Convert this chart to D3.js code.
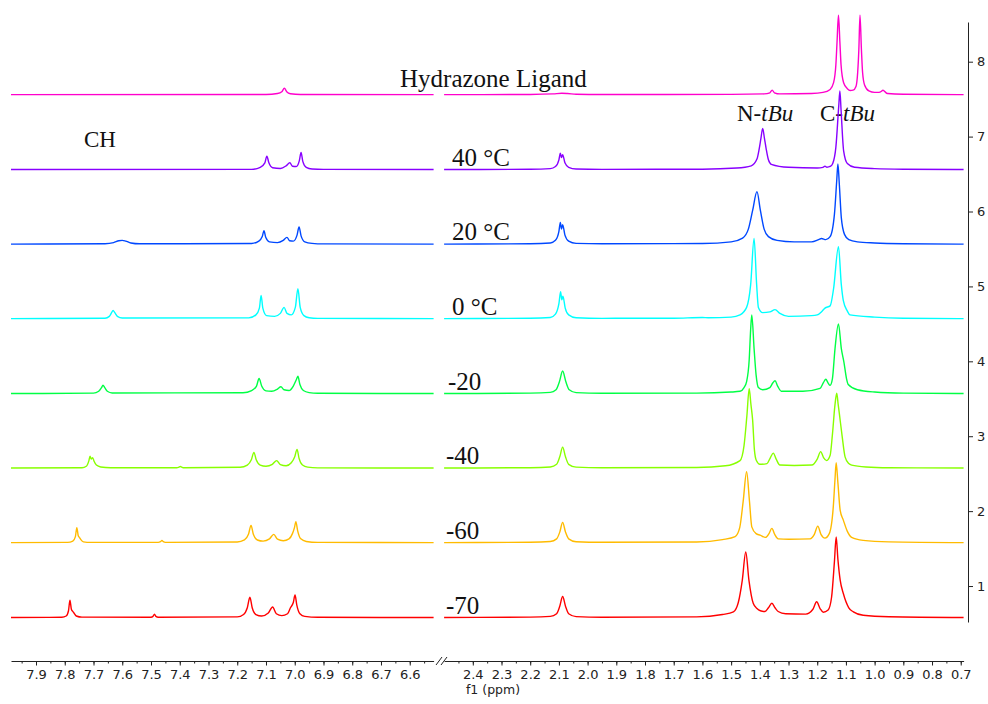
<!DOCTYPE html>
<html>
<head>
<meta charset="utf-8">
<script src="https://cdn.jsdelivr.net/npm/d3@7"></script>
<style>
  body { margin: 0; background: #fff; }
  svg { display: block; }
  .lbl { font-family: "Liberation Serif", "Times New Roman", serif; font-size: 25px; fill: #111; }
  .lbl.small { font-size: 23px; }
  .axis text { font-family: "DejaVu Sans", Verdana, sans-serif; font-size: 13px; fill: #222; }
  .axis path, .axis line { stroke: #222; }
</style>
</head>
<body>
<svg id="chart"></svg>
<script>
// spectra, bottom to top. points are [ppm, intensity]
const labels = ['-70', '-60', '-40', '-20', '0 °C', '20 °C', '40 °C', 'Hydrazone Ligand']
const colors = ['#ff0000', '#ffbb00', '#88ff00', '#00ff44', '#00ffff', '#0048ff', '#8800ff', '#ff00cc']
const offsets = [0.58, 1.58, 2.575, 3.57, 4.57, 5.565, 6.56, 7.56]

const minus70L = [
  [7.987,0],[7.81,0.003],[7.795,0.02],[7.787,0.09],[7.782,0.23],[7.777,0.11],[7.773,0.085],[7.768,0.06],[7.76,0.02],[7.74,0.005],
  [7.5,0.004],[7.493,0.015],[7.488,0.045],[7.483,0.015],[7.475,0.004],
  [7.2,0.008],[7.178,0.04],[7.165,0.13],[7.156,0.27],[7.148,0.13],[7.135,0.04],[7.115,0.02],
  [7.092,0.06],[7.077,0.14],[7.064,0.05],[7.045,0.025],[7.025,0.05],[7.015,0.13],[7.005,0.2],[6.999,0.3],[6.993,0.17],[6.982,0.05],[6.965,0.015],[6.92,0.003],[6.517,0]
]
const minus70R = [
  [2.5,0],[2.2,0.005],[2.13,0.015],[2.108,0.05],[2.097,0.15],[2.087,0.28],[2.077,0.15],[2.066,0.05],[2.04,0.012],[1.95,0.004],
  [1.62,0.008],[1.53,0.04],[1.492,0.075],[1.475,0.2],[1.461,0.5],[1.449,0.875],[1.438,0.5],[1.423,0.19],[1.41,0.12],[1.398,0.09],[1.382,0.08],[1.37,0.13],[1.358,0.19],[1.347,0.13],[1.336,0.08],[1.31,0.05],
  [1.24,0.045],[1.215,0.11],[1.202,0.21],[1.19,0.12],[1.179,0.07],[1.162,0.1],[1.15,0.27],[1.14,0.75],[1.134,1.076],[1.128,0.78],[1.12,0.5],[1.109,0.32],[1.09,0.13],[1.074,0.075],[1.04,0.03],[0.95,0.01],[0.69,0]
]
const minus60L = [
  [7.987,0],[7.79,0.003],[7.772,0.02],[7.763,0.08],[7.758,0.2],[7.753,0.09],[7.749,0.07],[7.744,0.04],[7.735,0.01],[7.71,0.003],
  [7.475,0.003],[7.467,0.012],[7.462,0.03],[7.457,0.012],[7.45,0.003],
  [7.2,0.008],[7.175,0.035],[7.161,0.11],[7.152,0.23],[7.144,0.11],[7.13,0.035],[7.11,0.02],
  [7.088,0.05],[7.073,0.11],[7.06,0.045],[7.04,0.025],[7.02,0.05],[7.008,0.12],[7.001,0.2],[6.996,0.28],[6.99,0.16],[6.979,0.05],[6.96,0.015],[6.92,0.003],[6.517,0]
]
const minus60R = [
  [2.5,0],[2.2,0.005],[2.13,0.015],[2.108,0.05],[2.097,0.14],[2.087,0.27],[2.077,0.14],[2.066,0.05],[2.04,0.012],[1.95,0.004],
  [1.62,0.008],[1.53,0.04],[1.486,0.08],[1.47,0.2],[1.458,0.55],[1.446,0.945],[1.436,0.55],[1.428,0.21],[1.413,0.12],[1.399,0.1],[1.38,0.07],[1.368,0.12],[1.358,0.19],[1.348,0.11],[1.336,0.05],[1.3,0.045],
  [1.225,0.05],[1.21,0.11],[1.198,0.22],[1.187,0.11],[1.173,0.06],[1.158,0.12],[1.144,0.48],[1.138,0.85],[1.134,1.065],[1.128,0.8],[1.12,0.43],[1.109,0.3],[1.095,0.15],[1.08,0.07],[1.04,0.03],[0.95,0.01],[0.69,0]
]
const minus40L = [
  [7.987,0],[7.74,0.004],[7.725,0.025],[7.716,0.1],[7.712,0.16],[7.708,0.12],[7.703,0.14],[7.698,0.09],[7.69,0.04],[7.675,0.015],[7.64,0.005],
  [7.41,0.004],[7.403,0.012],[7.398,0.02],[7.393,0.012],[7.385,0.004],
  [7.19,0.01],[7.165,0.04],[7.151,0.11],[7.142,0.21],[7.134,0.11],[7.12,0.04],[7.1,0.025],
  [7.078,0.05],[7.063,0.1],[7.05,0.045],[7.03,0.03],[7.012,0.07],[7.0,0.15],[6.992,0.25],[6.985,0.13],[6.973,0.04],[6.955,0.012],[6.92,0.003],[6.517,0]
]
const minus40R = [
  [2.5,0],[2.2,0.005],[2.13,0.015],[2.108,0.05],[2.097,0.15],[2.087,0.28],[2.077,0.15],[2.066,0.05],[2.04,0.012],[1.95,0.004],
  [1.62,0.008],[1.52,0.03],[1.469,0.1],[1.455,0.3],[1.445,0.7],[1.437,1.06],[1.431,0.85],[1.425,0.64],[1.419,0.25],[1.412,0.1],[1.4,0.05],[1.375,0.06],[1.363,0.14],[1.353,0.2],[1.343,0.12],[1.33,0.04],[1.28,0.035],
  [1.219,0.04],[1.2,0.12],[1.188,0.22],[1.178,0.14],[1.167,0.1],[1.155,0.17],[1.147,0.45],[1.138,0.85],[1.132,1.0],[1.127,0.85],[1.123,0.73],[1.113,0.42],[1.103,0.15],[1.09,0.06],[1.08,0.04],[1.03,0.015],[0.95,0.005],[0.69,0]
]
const minus20L = [
  [7.987,0],[7.7,0.005],[7.682,0.03],[7.672,0.08],[7.667,0.11],[7.661,0.08],[7.652,0.03],[7.635,0.008],
  [7.18,0.01],[7.15,0.04],[7.133,0.1],[7.124,0.2],[7.115,0.1],[7.1,0.035],[7.08,0.03],
  [7.06,0.06],[7.048,0.09],[7.037,0.05],[7.02,0.04],[7.005,0.1],[6.995,0.18],[6.989,0.23],[6.982,0.12],[6.97,0.04],[6.95,0.012],[6.92,0.003],[6.517,0]
]
const minus20R = [
  [2.5,0],[2.2,0.005],[2.13,0.015],[2.11,0.05],[2.098,0.16],[2.087,0.3],[2.076,0.16],[2.064,0.05],[2.04,0.012],[1.95,0.004],
  [1.62,0.006],[1.5,0.02],[1.469,0.03],[1.455,0.08],[1.446,0.16],[1.437,0.45],[1.432,0.85],[1.428,1.05],[1.42,0.6],[1.413,0.25],[1.405,0.08],[1.39,0.05],[1.365,0.08],[1.355,0.14],[1.347,0.17],[1.338,0.1],[1.325,0.03],[1.25,0.03],
  [1.19,0.07],[1.178,0.15],[1.17,0.19],[1.162,0.14],[1.155,0.11],[1.147,0.2],[1.138,0.6],[1.126,0.93],[1.116,0.6],[1.107,0.42],[1.098,0.2],[1.092,0.12],[1.06,0.05],[1.0,0.02],[0.9,0.005],[0.69,0]
]
const zeroL = [
  [7.987,0],[7.66,0.005],[7.645,0.03],[7.637,0.08],[7.632,0.11],[7.626,0.08],[7.617,0.03],[7.6,0.008],
  [7.16,0.01],[7.135,0.05],[7.123,0.14],[7.117,0.31],[7.111,0.14],[7.098,0.04],[7.07,0.03],
  [7.05,0.07],[7.037,0.15],[7.027,0.07],[7.012,0.05],[6.998,0.15],[6.989,0.4],[6.981,0.15],[6.968,0.04],[6.95,0.012],[6.92,0.003],[6.517,0]
]
const zeroR = [
  [2.5,0],[2.2,0.005],[2.13,0.015],[2.112,0.06],[2.1,0.2],[2.094,0.36],[2.09,0.25],[2.086,0.3],[2.078,0.14],[2.066,0.05],[2.04,0.012],[1.95,0.004],
  [1.7,0.006],[1.6,0.015],[1.58,0.012],[1.5,0.02],[1.469,0.05],[1.446,0.15],[1.432,0.45],[1.42,1.07],[1.411,0.45],[1.405,0.15],[1.39,0.08],[1.365,0.09],[1.347,0.12],[1.33,0.07],[1.3,0.03],
  [1.22,0.04],[1.2,0.05],[1.183,0.1],[1.173,0.14],[1.155,0.17],[1.143,0.4],[1.126,0.96],[1.116,0.45],[1.109,0.24],[1.095,0.1],[1.086,0.05],[1.0,0.02],[0.9,0.005],[0.69,0]
]
const plus20L = [
  [7.987,0],[7.66,0.005],[7.63,0.02],[7.612,0.045],[7.6,0.05],[7.588,0.04],[7.57,0.015],[7.54,0.004],
  [7.15,0.008],[7.125,0.04],[7.113,0.1],[7.107,0.18],[7.101,0.09],[7.088,0.03],[7.06,0.02],
  [7.04,0.05],[7.027,0.09],[7.018,0.045],[7.005,0.04],[6.992,0.12],[6.985,0.23],[6.978,0.11],[6.965,0.03],[6.94,0.01],[6.9,0.003],[6.517,0]
]
const plus20R = [
  [2.5,0],[2.2,0.005],[2.13,0.015],[2.112,0.05],[2.1,0.17],[2.095,0.29],[2.091,0.2],[2.087,0.26],[2.079,0.12],[2.066,0.04],[2.04,0.01],[1.95,0.004],
  [1.6,0.008],[1.5,0.03],[1.46,0.08],[1.44,0.2],[1.425,0.45],[1.41,0.7],[1.398,0.45],[1.385,0.2],[1.37,0.1],[1.34,0.05],[1.28,0.03],
  [1.22,0.03],[1.195,0.06],[1.185,0.075],[1.17,0.06],[1.155,0.1],[1.14,0.4],[1.132,0.85],[1.128,1.07],[1.123,0.8],[1.116,0.35],[1.105,0.13],[1.09,0.06],[1.06,0.03],[1.0,0.015],[0.9,0.005],[0.69,0]
]
const plus40L = [
  [7.987,0],[7.15,0.003],[7.12,0.03],[7.104,0.09],[7.097,0.18],[7.09,0.09],[7.077,0.025],[7.05,0.015],
  [7.03,0.05],[7.017,0.09],[7.008,0.045],[6.995,0.04],[6.984,0.12],[6.978,0.23],[6.972,0.11],[6.96,0.03],[6.94,0.008],[6.9,0.002],[6.517,0]
]
const plus40R = [
  [2.5,0],[2.2,0.004],[2.13,0.012],[2.112,0.04],[2.1,0.13],[2.095,0.22],[2.091,0.16],[2.087,0.2],[2.079,0.09],[2.066,0.03],[2.04,0.008],[1.95,0.003],
  [1.6,0.005],[1.48,0.02],[1.43,0.05],[1.41,0.14],[1.402,0.28],[1.396,0.42],[1.39,0.55],[1.384,0.42],[1.378,0.28],[1.37,0.13],[1.36,0.07],[1.3,0.03],
  [1.2,0.02],[1.18,0.03],[1.173,0.045],[1.166,0.03],[1.158,0.04],[1.153,0.045],[1.146,0.08],[1.135,0.3],[1.125,0.85],[1.121,1.05],[1.117,0.8],[1.108,0.25],[1.095,0.08],[1.07,0.03],[1.0,0.012],[0.9,0.004],[0.69,0]
]
const ligandL = [
  [7.987,0],[7.1,0.003],[7.06,0.015],[7.045,0.04],[7.036,0.085],[7.028,0.04],[7.015,0.012],[6.98,0.003],[6.517,0]
]
const ligandR = [
  [2.5,0],[2.2,0.003],[2.12,0.01],[2.09,0.018],[2.07,0.015],[2.04,0.006],[1.95,0.002],
  [1.5,0.004],[1.385,0.01],[1.365,0.025],[1.357,0.06],[1.349,0.025],[1.33,0.01],[1.22,0.015],[1.18,0.03],
  [1.155,0.07],[1.143,0.16],[1.135,0.4],[1.131,0.7],[1.126,1.06],[1.121,0.7],[1.117,0.4],[1.108,0.16],[1.095,0.08],[1.085,0.055],
  [1.075,0.06],[1.065,0.11],[1.059,0.3],[1.055,0.6],[1.051,1.06],[1.046,0.6],[1.042,0.3],[1.035,0.13],[1.02,0.05],[1.0,0.03],
  [0.985,0.03],[0.976,0.045],[0.971,0.06],[0.966,0.045],[0.955,0.015],[0.9,0.005],[0.69,0]
]

const leftTicks = [7.9, 7.8, 7.7, 7.6, 7.5, 7.4, 7.3, 7.2, 7.1, 7.0, 6.9, 6.8, 6.7, 6.6]
const rightTicks = [2.4, 2.3, 2.2, 2.1, 2.0, 1.9, 1.8, 1.7, 1.6, 1.5, 1.4, 1.3, 1.2, 1.1, 1.0, 0.9, 0.8, 0.7]
const yTicks = [1, 2, 3, 4, 5, 6, 7, 8]

const spectra = labels.map((label, i) => ({
  label, color: colors[i], offset: offsets[i],
  left: [minus70L, minus60L, minus40L, minus20L, zeroL, plus20L, plus40L, ligandL][i],
  right: [minus70R, minus60R, minus40R, minus20R, zeroR, plus20R, plus40R, ligandR][i]
}))

const width = 988, height = 704
const axisY = 661

const svg = d3.select('#chart').attr('width', width).attr('height', height)

const xLeft = d3.scaleLinear().domain([7.987, 6.517]).range([11, 433.6])
const xRight = d3.scaleLinear().domain([2.5, 0.69]).range([444.1, 963.6])
const y = d3.scaleLinear().domain([0.52, 8.53]).range([622, 22])

// x axes, left + right piece
const minorL = d3.range(7.95, 6.53, -0.05).map(v => +v.toFixed(2))
const minorR = d3.range(2.45, 0.69, -0.05).map(v => +v.toFixed(2))

const drawX = (scale, majors, minors) => {
  svg.append('g')
    .attr('class', 'axis')
    .attr('transform', `translate(0, ${axisY})`)
    .call(d3.axisBottom(scale).tickValues(minors).tickSize(2.5).tickSizeOuter(0).tickFormat(''))
  svg.append('g')
    .attr('class', 'axis')
    .attr('transform', `translate(0, ${axisY})`)
    .call(d3.axisBottom(scale).tickValues(majors).tickSize(4.5).tickSizeOuter(0).tickPadding(4).tickFormat(d3.format('.1f')))
    .call(g => g.select('.domain').remove())
}
drawX(xLeft, leftTicks, minorL)
drawX(xRight, rightTicks, minorR)

// break marks
svg.append('path')
  .attr('d', `M436,${axisY + 4}L442,${axisY - 4}M441,${axisY + 4}L447,${axisY - 4}`)
  .attr('stroke', '#222').attr('fill', 'none').attr('stroke-width', 1)

svg.append('text')
  .attr('x', 493).attr('y', 694)
  .attr('text-anchor', 'middle')
  .style('font-family', '"DejaVu Sans", Verdana, sans-serif')
  .style('font-size', '12.5px').style('fill', '#222')
  .text('f1 (ppm)')

// y axis on the right
svg.append('g')
  .attr('class', 'axis')
  .attr('transform', 'translate(968, 0)')
  .call(d3.axisRight(y).tickValues(yTicks).tickSize(5).tickSizeOuter(0).tickPadding(4))

// labels go under the traces
const gLabels = svg.append('g')
const labelX = [446, 446, 446, 448, 452, 452, 452, 400]
spectra.forEach((s, i) => {
  gLabels.append('text')
    .attr('class', 'lbl')
    .attr('x', labelX[i])
    .attr('y', y(s.offset) - (i === 7 ? 8 : 4))
    .text(s.label)
})

gLabels.append('text').attr('class', 'lbl small').attr('x', 84).attr('y', 147).text('CH')

const tbu = (x, prefix) => {
  const t = gLabels.append('text').attr('class', 'lbl small').attr('x', x).attr('y', 121)
  t.append('tspan').text(prefix)
  t.append('tspan').style('font-style', 'italic').text('tBu')
}
tbu(737, 'N-')
tbu(820, 'C-')

// spectra
spectra.forEach(s => {
  const lineL = d3.line().x(d => xLeft(d[0])).y(d => y(s.offset + d[1])).curve(d3.curveMonotoneX)
  const lineR = d3.line().x(d => xRight(d[0])).y(d => y(s.offset + d[1])).curve(d3.curveMonotoneX)
  svg.append('path').datum(s.left)
    .attr('fill', 'none').attr('stroke', s.color).attr('stroke-width', 1.4)
    .attr('d', lineL)
  svg.append('path').datum(s.right)
    .attr('fill', 'none').attr('stroke', s.color).attr('stroke-width', 1.4)
    .attr('d', lineR)
})
</script>
</body>
</html>
